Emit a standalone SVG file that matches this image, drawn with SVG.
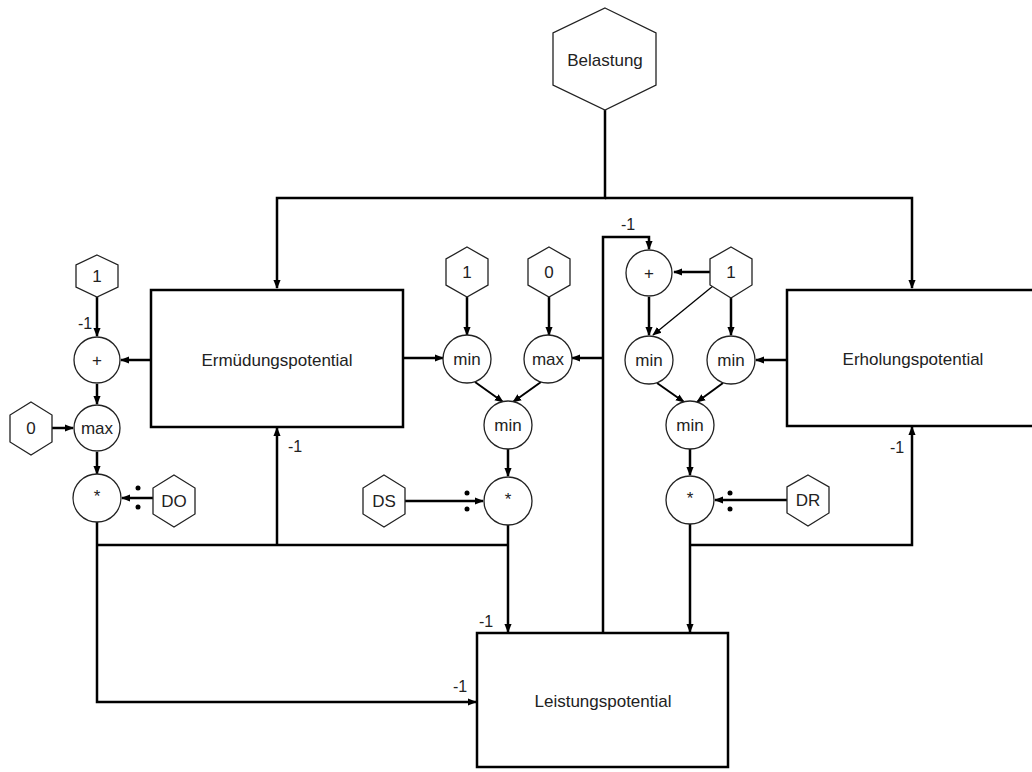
<svg xmlns="http://www.w3.org/2000/svg" width="1032" height="772" viewBox="0 0 1032 772">
<defs>
<style>
.box{fill:#fff;stroke:#000;stroke-width:2.5}
.hex{fill:#fff;stroke:#222;stroke-width:1.3}
.op{fill:#fff;stroke:#222;stroke-width:1.3}
.t{font-family:"Liberation Sans",Arial,sans-serif;font-size:17px;fill:#222;text-anchor:middle;dominant-baseline:central}
.lbl{font-family:"Liberation Sans",Arial,sans-serif;font-size:16px;fill:#222}
.c{fill:none;stroke:#000;stroke-width:2.5}
.thin{fill:none;stroke:#000;stroke-width:1.3}
.dot{fill:#000}
</style>
<marker id="ah" viewBox="0 0 10 10" refX="9" refY="5" markerWidth="9" markerHeight="9" markerUnits="userSpaceOnUse" orient="auto">
<path d="M0,1 L10,5 L0,9 z" fill="#000"/>
</marker>
</defs>
<rect width="1032" height="772" fill="#fff"/>

<g id="connectors">
<path class="c" d="M605,110 V198 H277 V288" marker-end="url(#ah)"/>
<path class="c" d="M605,198 H912 V288" marker-end="url(#ah)"/>
<path class="c" d="M97,297 V336" marker-end="url(#ah)"/>
<path class="c" d="M151,360 H121" marker-end="url(#ah)"/>
<path class="c" d="M97,384 V404" marker-end="url(#ah)"/>
<path class="c" d="M52,428 H73" marker-end="url(#ah)"/>
<path class="c" d="M97,452 V474" marker-end="url(#ah)"/>
<path class="c" d="M153,498 H122" marker-end="url(#ah)"/>
<path class="c" d="M97,522 V702 H476" marker-end="url(#ah)"/>
<path class="c" d="M97,545 H508"/>
<path class="c" d="M277,545 V428" marker-end="url(#ah)"/>
<path class="c" d="M508,525 V632" marker-end="url(#ah)"/>
<path class="c" d="M403,358 H443" marker-end="url(#ah)"/>
<path class="c" d="M467,297 V335" marker-end="url(#ah)"/>
<path class="c" d="M549,297 V335" marker-end="url(#ah)"/>
<path class="c" d="M603,633 V237 H649 V249" marker-end="url(#ah)"/>
<path class="c" d="M603,358 H572" marker-end="url(#ah)"/>
<path class="c" style="stroke-width:2" d="M475,382 L503,402" marker-end="url(#ah)"/>
<path class="c" style="stroke-width:2" d="M541,382 L513,402" marker-end="url(#ah)"/>
<path class="c" d="M508,448 V476" marker-end="url(#ah)"/>
<path class="c" d="M405,501 H483" marker-end="url(#ah)"/>
<path class="c" d="M710,272 H674" marker-end="url(#ah)"/>
<path class="thin" d="M713,286 L653,335" marker-end="url(#ah)"/>
<path class="c" d="M649,297 V335" marker-end="url(#ah)"/>
<path class="c" d="M731,298 V335" marker-end="url(#ah)"/>
<path class="c" d="M787,360 H756" marker-end="url(#ah)"/>
<path class="c" style="stroke-width:2" d="M657,383 L684,402" marker-end="url(#ah)"/>
<path class="c" style="stroke-width:2" d="M723,383 L697,402" marker-end="url(#ah)"/>
<path class="c" d="M690,449 V475" marker-end="url(#ah)"/>
<path class="c" d="M788,500 H715" marker-end="url(#ah)"/>
<path class="c" d="M690,524 V632" marker-end="url(#ah)"/>
<path class="c" d="M690,545 H912 V427" marker-end="url(#ah)"/>
<circle class="dot" cx="138" cy="488" r="2.5"/>
<circle class="dot" cx="138" cy="507" r="2.5"/>
<circle class="dot" cx="467" cy="493" r="2.5"/>
<circle class="dot" cx="467" cy="509" r="2.5"/>
<circle class="dot" cx="730" cy="493" r="2.5"/>
<circle class="dot" cx="730" cy="509" r="2.5"/>
<text class="lbl" x="78" y="329">-1</text>
<text class="lbl" x="288" y="452">-1</text>
<text class="lbl" x="621" y="230">-1</text>
<text class="lbl" x="890" y="453">-1</text>
<text class="lbl" x="479" y="627">-1</text>
<text class="lbl" x="453" y="692">-1</text>
</g>

<g id="belastung">
<polygon class="hex" points="605,8 656,33 656,85 605,110 553,85 553,33"/>
<text class="t" x="605" y="60">Belastung</text>
</g>
<g id="ermuedung">
<rect class="box" x="151" y="290" width="252" height="137"/>
<text class="t" x="277" y="360">Ermüdungspotential</text>
</g>
<g id="erholung">
<rect class="box" x="787" y="290" width="260" height="136"/>
<text class="t" x="913" y="359">Erholungspotential</text>
</g>
<g id="leistung">
<rect class="box" x="477" y="633" width="251" height="134"/>
<text class="t" x="603" y="701">Leistungspotential</text>
</g>

<g id="hex-one-left"><polygon class="hex" points="97,255 118,265 118,287 97,297 76,287 76,265"/><text class="t" x="97" y="276">1</text></g>
<g id="plus-left"><circle class="op" cx="97" cy="360" r="23"/><text class="t" x="97" y="360">+</text></g>
<g id="hex-zero-left"><polygon class="hex" points="31,402 52,415 52,442 31,455 10,442 10,415"/><text class="t" x="31" y="428">0</text></g>
<g id="max-left"><circle class="op" cx="97" cy="428" r="23"/><text class="t" x="97" y="428">max</text></g>
<g id="mul-left"><circle class="op" cx="97" cy="498" r="24"/><text class="t" x="97" y="496">*</text></g>
<g id="hex-do"><polygon class="hex" points="174,475 195,488 195,514 174,527 153,514 153,488"/><text class="t" x="174" y="501">DO</text></g>

<g id="hex-one-mid"><polygon class="hex" points="467,247 488,259 488,285 467,297 446,285 446,259"/><text class="t" x="467" y="272">1</text></g>
<g id="hex-zero-mid"><polygon class="hex" points="549,247 570,259 570,285 549,297 528,285 528,259"/><text class="t" x="549" y="272">0</text></g>
<g id="min-mid1"><circle class="op" cx="467" cy="359" r="24"/><text class="t" x="467" y="359">min</text></g>
<g id="max-mid"><circle class="op" cx="548" cy="359" r="24"/><text class="t" x="548" y="359">max</text></g>
<g id="min-mid2"><circle class="op" cx="508" cy="425" r="24"/><text class="t" x="508" y="425">min</text></g>
<g id="mul-mid"><circle class="op" cx="508" cy="501" r="24"/><text class="t" x="508" y="499">*</text></g>
<g id="hex-ds"><polygon class="hex" points="384,475 405,488 405,514 384,527 363,514 363,488"/><text class="t" x="384" y="501">DS</text></g>

<g id="plus-right"><circle class="op" cx="649" cy="273" r="23"/><text class="t" x="649" y="273">+</text></g>
<g id="hex-one-right"><polygon class="hex" points="731,247 752,259 752,285 731,298 710,285 710,259"/><text class="t" x="731" y="272">1</text></g>
<g id="min-ra"><circle class="op" cx="649" cy="360" r="24"/><text class="t" x="649" y="360">min</text></g>
<g id="min-rb"><circle class="op" cx="731" cy="360" r="24"/><text class="t" x="731" y="360">min</text></g>
<g id="min-rc"><circle class="op" cx="690" cy="425" r="24"/><text class="t" x="690" y="425">min</text></g>
<g id="mul-right"><circle class="op" cx="690" cy="500" r="24"/><text class="t" x="690" y="498">*</text></g>
<g id="hex-dr"><polygon class="hex" points="808,475 829,487 829,513 808,526 787,513 787,487"/><text class="t" x="808" y="500">DR</text></g>
</svg>
